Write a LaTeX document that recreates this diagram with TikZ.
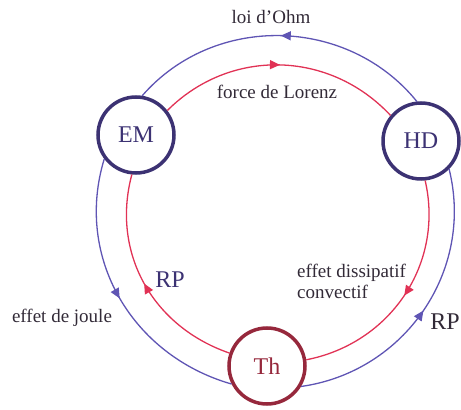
\documentclass[tikz,border=0pt]{standalone}
\usepackage{fontspec}
\setmainfont{Liberation Serif}
\usetikzlibrary{arrows.meta,decorations.markings}

\definecolor{bleu}{RGB}{95,85,180}
\definecolor{rouge}{RGB}{225,50,85}
\definecolor{anneau}{RGB}{60,50,115}
\definecolor{brique}{RGB}{150,40,60}
\definecolor{encre}{RGB}{50,42,55}

\begin{document}
\begin{tikzpicture}[x=1pt, y=1pt,
  pole/.style={circle, draw=anneau, line width=3.5pt, minimum size=76pt, inner sep=0pt,
    text=anneau, font=\fontsize{24}{28}\selectfont},
  lien/.style={line width=1.3pt, looseness=1.02, postaction={decorate},
    decoration={markings, mark=at position 0.5 with {\arrow{Triangle[length=10pt,width=9pt]}}}},
  legende/.style={text=encre, font=\fontsize{19}{21}\selectfont, inner sep=0pt}]
  \useasboundingbox (0,0) rectangle (461,410);
  % the three poles
  \node[pole] (em) at (136,275) {EM};
  \node[pole] (hd) at (421,269) {HD};
  \node[pole, draw=brique, text=brique] (th) at (267,44) {Th};
  % outer loop (blue), turning left
  \draw[lien, bleu] (hd.96) to[out=129, in=49] (em.81);
  \draw[lien, bleu] (em.217) to[out=253, in=164] (th.207);
  \draw[lien, bleu] (th.329) to[out=8, in=284] (hd.315);
  % inner loop (red), turning right
  \draw[lien, rouge] (em.38) to[out=45, in=133] (hd.140);
  \draw[lien, rouge] (hd.276) to[out=283, in=11] (th.9);
  \draw[lien, rouge] (th.161) to[out=161, in=255] (em.264);
  % labels
  \node[legende] (ohm) at (271,393) {loi d'Ohm};
  \node[legende] (lorenz) at (277,318) {force de Lorenz};
  \node[legende] (joule) at (62,92) {effet de joule};
  \node[legende, anchor=west, align=left] (dissip) at (297,129) {effet dissipatif\\convectif};
  \node[legende, text=anneau, font=\fontsize{24}{28}\selectfont] (rpg) at (170,130) {RP};
  \node[legende, font=\fontsize{24}{28}\selectfont, anchor=east] (rpd) at (460,88) {RP};
\end{tikzpicture}
\end{document}
